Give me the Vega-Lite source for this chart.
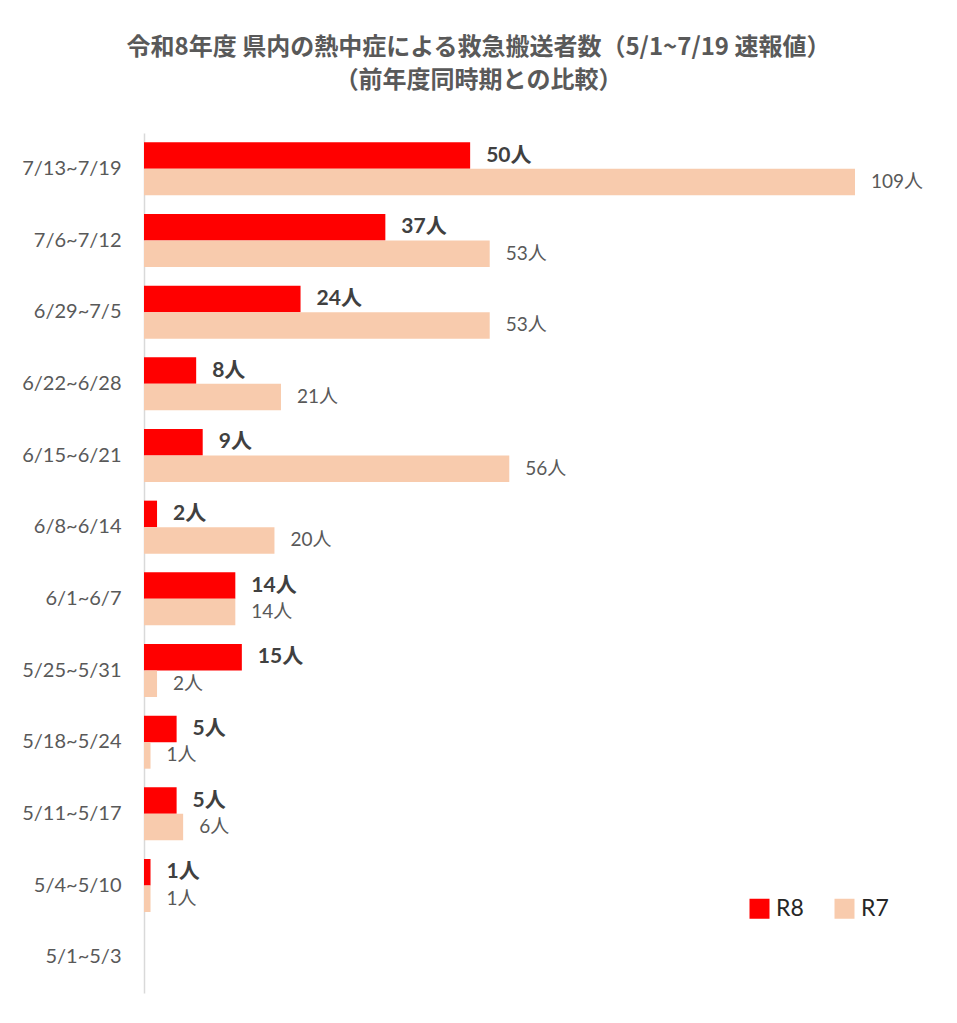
{
  "$schema": "https://vega.github.io/schema/vega-lite/v6.json",
  "width": 711,
  "height": 860,
  "autosize": {"type": "none"},
  "padding": {"left": 144, "top": 133, "right": 102, "bottom": 30},
  "background": "white",
  "title": {
    "text": ["令和8年度 県内の熱中症による救急搬送者数（5/1~7/19 速報値）", "（前年度同時期との比較）"],
    "font": "Noto Sans CJK JP",
    "fontSize": 24,
    "fontWeight": "bold",
    "color": "#595959",
    "lineHeight": 33,
    "anchor": "middle",
    "frame": "group",
    "dx": -21,
    "offset": 40
  },
  "config": {
    "view": {"stroke": null},
    "legend": {"labelFont": "Lato", "labelFontSize": 23, "labelColor": "#262626"}
  },
  "data": {
    "values": [
      {"period": "7/13~7/19", "year": "R8", "count": 50},
      {"period": "7/13~7/19", "year": "R7", "count": 109},
      {"period": "7/6~7/12", "year": "R8", "count": 37},
      {"period": "7/6~7/12", "year": "R7", "count": 53},
      {"period": "6/29~7/5", "year": "R8", "count": 24},
      {"period": "6/29~7/5", "year": "R7", "count": 53},
      {"period": "6/22~6/28", "year": "R8", "count": 8},
      {"period": "6/22~6/28", "year": "R7", "count": 21},
      {"period": "6/15~6/21", "year": "R8", "count": 9},
      {"period": "6/15~6/21", "year": "R7", "count": 56},
      {"period": "6/8~6/14", "year": "R8", "count": 2},
      {"period": "6/8~6/14", "year": "R7", "count": 20},
      {"period": "6/1~6/7", "year": "R8", "count": 14},
      {"period": "6/1~6/7", "year": "R7", "count": 14},
      {"period": "5/25~5/31", "year": "R8", "count": 15},
      {"period": "5/25~5/31", "year": "R7", "count": 2},
      {"period": "5/18~5/24", "year": "R8", "count": 5},
      {"period": "5/18~5/24", "year": "R7", "count": 1},
      {"period": "5/11~5/17", "year": "R8", "count": 5},
      {"period": "5/11~5/17", "year": "R7", "count": 6},
      {"period": "5/4~5/10", "year": "R8", "count": 1},
      {"period": "5/4~5/10", "year": "R7", "count": 1}
    ]
  },
  "transform": [
    {"calculate": "datum.count + '人'", "as": "label"}
  ],
  "encoding": {
    "y": {
      "field": "period",
      "type": "nominal",
      "scale": {
        "domain": ["7/13~7/19", "7/6~7/12", "6/29~7/5", "6/22~6/28", "6/15~6/21", "6/8~6/14", "6/1~6/7", "5/25~5/31", "5/18~5/24", "5/11~5/17", "5/4~5/10", "5/1~5/3"],
        "paddingInner": 0.26,
        "paddingOuter": 0.13
      },
      "axis": {
        "title": null,
        "ticks": false,
        "domainColor": "#D9D9D9",
        "domainWidth": 1.5,
        "labelFont": "Lato",
        "labelFontSize": 20,
        "labelColor": "#595959",
        "labelPadding": 23
      }
    },
    "yOffset": {
      "field": "year",
      "type": "nominal",
      "scale": {"domain": ["R8", "R7"], "paddingInner": 0, "paddingOuter": 0}
    },
    "x": {
      "field": "count",
      "type": "quantitative",
      "scale": {"domain": [0, 109], "nice": false},
      "axis": null
    }
  },
  "layer": [
    {
      "mark": {"type": "bar"},
      "encoding": {
        "color": {
          "field": "year",
          "type": "nominal",
          "scale": {"domain": ["R8", "R7"], "range": ["#FF0000", "#F8CBAD"]},
          "legend": {
            "title": null,
            "orient": "none",
            "direction": "horizontal",
            "legendX": 604,
            "legendY": 764,
            "symbolType": "square",
            "symbolSize": 400,
            "symbolStrokeWidth": 0,
            "labelOffset": 5,
            "columnPadding": 29
          }
        }
      }
    },
    {
      "transform": [{"filter": "datum.year == 'R8'"}],
      "mark": {
        "type": "text",
        "align": "left",
        "baseline": "middle",
        "dx": 16,
        "font": "Lato, 'Noto Sans CJK JP'",
        "fontSize": 21,
        "fontWeight": "bold",
        "color": "#404040"
      },
      "encoding": {"text": {"field": "label"}}
    },
    {
      "transform": [{"filter": "datum.year == 'R7'"}],
      "mark": {
        "type": "text",
        "align": "left",
        "baseline": "middle",
        "dx": 16,
        "font": "Lato, 'Noto Sans CJK JP'",
        "fontSize": 19,
        "color": "#595959"
      },
      "encoding": {"text": {"field": "label"}}
    }
  ]
}
